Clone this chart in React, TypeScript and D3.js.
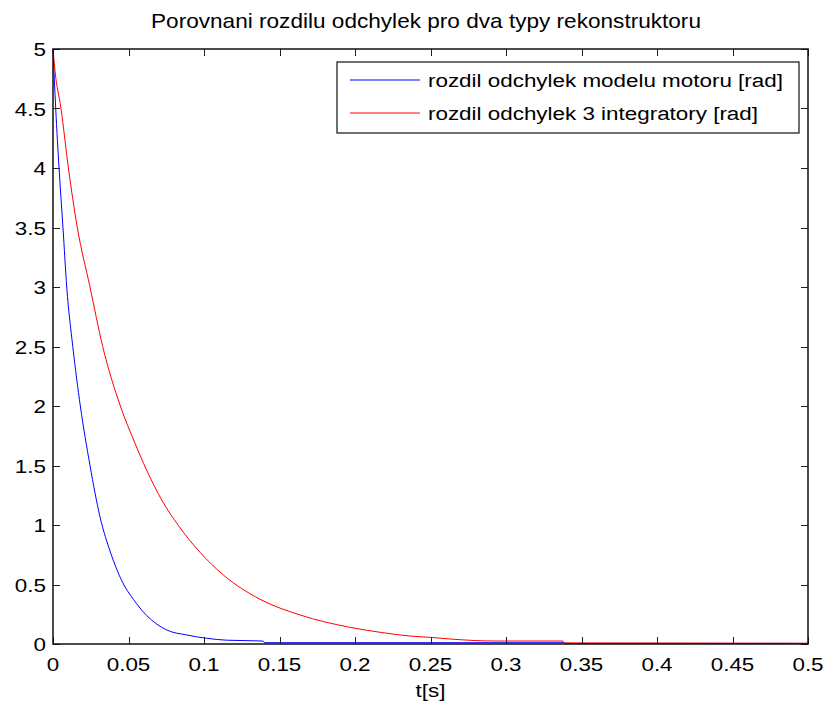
import React, { useEffect, useRef } from 'react';
import * as d3 from 'd3';

// time [s] / value [rad] readings for each curve
const blueT = [0, 0.0018, 0.004, 0.0066, 0.0091, 0.0131, 0.0181, 0.0245, 0.0311, 0.0382, 0.046, 0.0532, 0.062, 0.0753, 0.0885, 0.1018, 0.115, 0.1391, 0.1401, 0.338, 0.339, 0.5];
const blueV = [5, 4.5, 4.0, 3.5, 3.0, 2.5, 2.0, 1.5, 1.07, 0.765, 0.52, 0.376, 0.24, 0.118, 0.076, 0.048, 0.032, 0.025, 0.011, 0.011, 0.005, 0.005];

const redT = [0, 0.0013, 0.0053, 0.0102, 0.0161, 0.0245, 0.0329, 0.0446, 0.0543, 0.062, 0.072, 0.0828, 0.0974, 0.1128, 0.1371, 0.1636, 0.1967, 0.2185, 0.2364, 0.2497, 0.265, 0.2927, 0.3377, 0.3384, 0.5];
const redV = [5, 4.82, 4.5, 4.0, 3.5, 3.0, 2.5, 2.0, 1.687, 1.462, 1.21, 1.0, 0.77, 0.58, 0.376, 0.244, 0.14, 0.095, 0.067, 0.056, 0.04, 0.025, 0.025, 0.009, 0.006];

const xTicks = [0, 0.05, 0.1, 0.15, 0.2, 0.25, 0.3, 0.35, 0.4, 0.45, 0.5];
const yTicks = [0, 0.5, 1, 1.5, 2, 2.5, 3, 3.5, 4, 4.5, 5];

const seriesNames = ['rozdil odchylek modelu motoru [rad]', 'rozdil odchylek 3 integratory [rad]'];
const seriesColors = ['#0000ff', '#ff0000'];

const titleText = 'Porovnani rozdilu odchylek pro dva typy rekonstruktoru';
const xLabel = 't[s]';

function App() {
  const svgRef = useRef<SVGSVGElement>(null);

  useEffect(() => {
    const svg = d3.select(svgRef.current);
    svg.selectAll('*').remove();

    const W = 828;
    const H = 706;
    const margin = { top: 49, right: 20, bottom: 62, left: 53 };
    const width = W - margin.left - margin.right;
    const height = H - margin.top - margin.bottom;
    const font = '"Liberation Sans", Arial, sans-serif';
    const sx = 1.18; // the source text is a bit wide

    svg.attr('width', W).attr('height', H);
    svg.append('rect').attr('width', W).attr('height', H).attr('fill', '#fff');

    // helper: text with horizontal stretch
    const label = (parent, px, py, txt, anchor, size = 19, stretch = sx) => {
      parent.append('text')
        .attr('transform', `translate(${px},${py}) scale(${stretch},1)`)
        .attr('text-anchor', anchor)
        .style('font-family', font)
        .style('font-size', `${size}px`)
        .text(txt);
    };

    const g = svg.append('g').attr('transform', `translate(${margin.left},${margin.top})`);

    const x = d3.scaleLinear().domain([0, 0.5]).range([0, width]);
    const y = d3.scaleLinear().domain([0, 5]).range([height, 0]);

    // curves
    const line = d3.line<[number, number]>()
      .x((d) => x(d[0]))
      .y((d) => y(d[1]))
      .curve(d3.curveMonotoneX);

    const series = [
      blueT.map((t, i) => [t, blueV[i]] as [number, number]),
      redT.map((t, i) => [t, redV[i]] as [number, number]),
    ];
    series.forEach((s, i) => {
      g.append('path')
        .datum(s)
        .attr('d', line)
        .attr('fill', 'none')
        .attr('stroke', seriesColors[i])
        .attr('stroke-width', 1);
    });

    // ticks (inward, on every side)
    const tickLen = 7;
    const ticks = g.append('g').attr('stroke', '#222').attr('stroke-width', 1);
    xTicks.forEach((t) => {
      const px = Math.round(x(t)) + 0.5;
      ticks.append('line').attr('x1', px).attr('x2', px).attr('y1', height).attr('y2', height - tickLen);
      ticks.append('line').attr('x1', px).attr('x2', px).attr('y1', 0).attr('y2', tickLen);
    });
    yTicks.forEach((v) => {
      const py = Math.round(y(v)) + 0.5;
      ticks.append('line').attr('x1', 0).attr('x2', tickLen).attr('y1', py).attr('y2', py);
      ticks.append('line').attr('x1', width).attr('x2', width - tickLen).attr('y1', py).attr('y2', py);
    });

    // box
    g.append('rect')
      .attr('width', width)
      .attr('height', height)
      .attr('fill', 'none')
      .attr('stroke', '#111')
      .attr('stroke-width', 1.5);

    // tick labels
    const fmt = d3.format('~g');
    xTicks.forEach((d) => label(g, x(d), height + 27, fmt(d), 'middle'));
    yTicks.forEach((d) => label(g, -7, y(d) + 7, fmt(d), 'end'));

    // title + axis label
    label(svg, 426, 28, titleText, 'middle', 20, 1.13);
    label(svg, margin.left + width / 2, 697, xLabel, 'middle');

    // legend
    const leg = svg.append('g').attr('transform', 'translate(337,62)');
    leg.append('rect')
      .attr('width', 462)
      .attr('height', 71)
      .attr('fill', '#fff')
      .attr('stroke', '#111')
      .attr('stroke-width', 1.2);
    seriesNames.forEach((name, i) => {
      const ly = 18 + i * 33;
      leg.append('line')
        .attr('x1', 13).attr('x2', 83)
        .attr('y1', ly).attr('y2', ly)
        .attr('stroke', seriesColors[i])
        .attr('stroke-width', 1);
      label(leg, 91, ly + 7, name, 'start');
    });
  }, []);

  return (
    <svg ref={svgRef} style={{ position: 'absolute', left: 0, top: 0 }} />
  );
}

export default App;
